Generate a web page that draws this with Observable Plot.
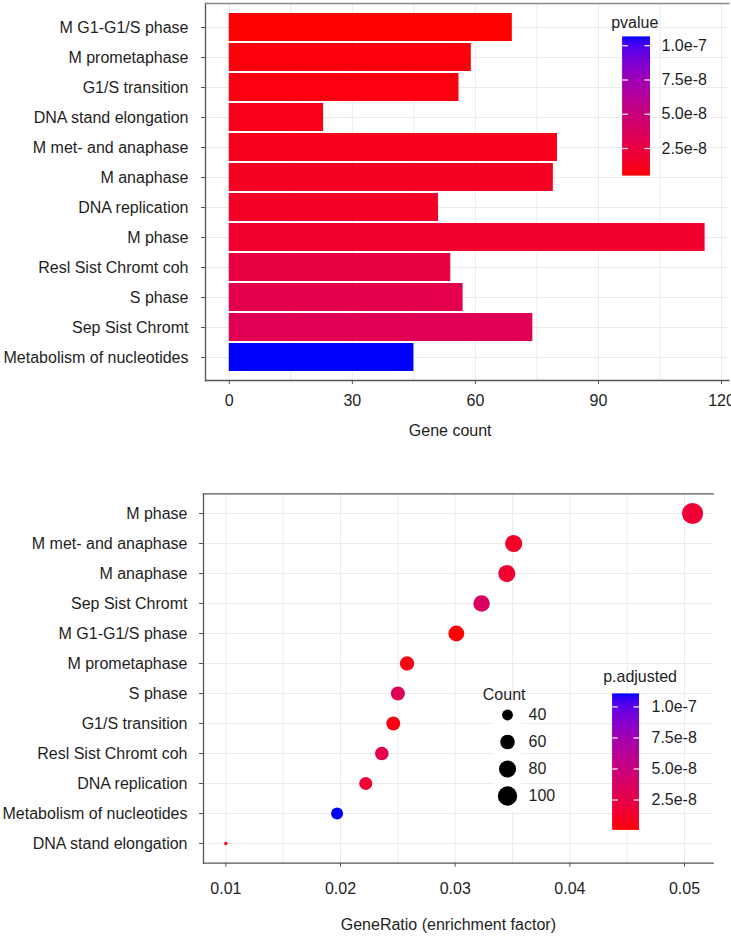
<!DOCTYPE html>
<html><head><meta charset="utf-8">
<script src="https://cdn.jsdelivr.net/npm/d3@7"></script>
<script src="https://cdn.jsdelivr.net/npm/@observablehq/plot@0.6"></script>
<style>
body{margin:0;background:#fff;font-family:"Liberation Sans",Arial,sans-serif;}
#wrap{position:relative;width:731px;height:936px;overflow:hidden;background:#fff}
#wrap svg{position:absolute;overflow:visible}
</style></head><body><div id="wrap"></div>
<script>
// ---------- data: top bar chart ----------
const barTerms = ["M G1-G1/S phase","M prometaphase","G1/S transition","DNA stand elongation","M met- and anaphase","M anaphase","DNA replication","M phase","Resl Sist Chromt coh","S phase","Sep Sist Chromt","Metabolism of nucleotides"];
const barCounts = [69, 59, 56, 23, 80, 79, 51, 116, 54, 57, 74, 45];
const barPvalues = [5.3e-9, 7.3e-9, 8.3e-9, 1.03e-8, 1.13e-8, 1.33e-8, 1.44e-8, 1.74e-8, 2.54e-8, 2.85e-8, 3.25e-8, 1.06e-7];
const geneCountTicks = [0, 30, 60, 90, 120];
const geneCountGrid = [0, 15, 30, 45, 60, 75, 90, 105, 120];

// ---------- data: bottom dot chart ----------
const dotTerms = ["M phase","M met- and anaphase","M anaphase","Sep Sist Chromt","M G1-G1/S phase","M prometaphase","S phase","G1/S transition","Resl Sist Chromt coh","DNA replication","Metabolism of nucleotides","DNA stand elongation"];
const dotRatios = [0.0507, 0.0351, 0.0345, 0.0323, 0.0301, 0.0258, 0.0250, 0.0246, 0.0236, 0.0222, 0.0197, 0.0100];
const dotCounts = [116, 80, 79, 74, 69, 59, 57, 56, 54, 51, 45, 23];
const dotPadj = [1.7e-8, 1.19e-8, 1.5e-8, 3.5e-8, 1.0e-9, 4.5e-9, 3.15e-8, 4.0e-9, 2.7e-8, 1.6e-8, 1.1e-7, 3.2e-9];
const ratioTicks = [0.01, 0.02, 0.03, 0.04, 0.05];
const ratioGrid = [0.01, 0.015, 0.02, 0.025, 0.03, 0.035, 0.04, 0.045, 0.05];

// ---------- legends ----------
const colorLegendTicks = [2.5e-8, 5.0e-8, 7.5e-8, 1.0e-7];
const countLegend = [40, 60, 80, 100];

const FONT = '"Liberation Sans", Arial, sans-serif';
const TXT = "#1e1e1e";
const AXIS = "#555";
const GRID = "#ebebeb";
const fmtE = d => d.toExponential(1);
const wrap = document.getElementById("wrap");
function place(svg, left, topY){ svg.style.left = left + "px"; svg.style.top = topY + "px"; wrap.appendChild(svg); }
const baseStyle = {fontFamily: FONT, fontSize: "16px", color: TXT, background: "transparent", overflow: "visible"};

// ================= TOP: bar chart =================
const barData = barTerms.map((t, i) => ({term: t, count: barCounts[i], pvalue: barPvalues[i]}));
const pDomain = d3.extent(barPvalues);
const pColor = {type: "linear", domain: pDomain, range: ["#ff0000", "#0000ff"], interpolate: "lab"};

const topChart = Plot.plot({
  width: 731, height: 466,
  marginLeft: 205, marginRight: 2.6, marginTop: 3, marginBottom: 86,
  style: baseStyle,
  x: {domain: [-5.8, 121.8], label: null},
  y: {domain: barTerms, paddingInner: 0.08, paddingOuter: 0.16, label: null},
  color: pColor,
  marks: [
    Plot.gridX(geneCountGrid, {stroke: GRID, strokeOpacity: 1}),
    Plot.gridY({stroke: GRID, strokeOpacity: 1}),
    Plot.barX(barData, {x: "count", y: "term", fill: "pvalue"}),
    Plot.frame({anchor: "left", stroke: AXIS, strokeWidth: 1.3}),
    Plot.frame({anchor: "bottom", stroke: AXIS, strokeWidth: 1.3}),
    Plot.frame({anchor: "top", stroke: "#888", strokeWidth: 1.3}),
    Plot.axisY({tickSize: 4, tickPadding: 13, stroke: AXIS, fill: TXT, fontSize: 16, label: null}),
    Plot.axisX({ticks: geneCountTicks, tickSize: 4, tickPadding: 10, stroke: AXIS, fill: TXT, fontSize: 16, label: null}),
    Plot.text(["Gene count"], {frameAnchor: "bottom", lineAnchor: "middle", dy: 50, dx: -17, fill: TXT, fontSize: 16})
  ]
});
place(topChart, 0, 0);

// colour bar legend builder
function colorBar(title, domain, colorOpts, barW, barH, mLeft, labelPad, titleDx, titleDy){
  const n = 160;
  const steps = d3.range(n).map(i => ({
    v0: domain[0] + (domain[1] - domain[0]) * i / n,
    v1: domain[0] + (domain[1] - domain[0]) * (i + 1) / n
  }));
  return Plot.plot({
    width: mLeft + barW + 75, height: 30 + barH + 6,
    marginLeft: mLeft, marginRight: 75, marginTop: 30, marginBottom: 6,
    style: baseStyle,
    x: {domain: [0, 1], axis: null},
    y: {domain: domain, label: null},
    color: colorOpts,
    marks: [
      Plot.rect(steps, {x1: 0, x2: 1, y1: "v0", y2: "v1", fill: d => (d.v0 + d.v1) / 2, insetTop: -0.6, insetBottom: -0.6}),
      Plot.ruleY(colorLegendTicks, {x1: 0, x2: 0.2, stroke: "white", strokeWidth: 1.2}),
      Plot.ruleY(colorLegendTicks, {x1: 0.8, x2: 1, stroke: "white", strokeWidth: 1.2}),
      Plot.axisY({anchor: "right", ticks: colorLegendTicks, tickFormat: fmtE, tickSize: 0, tickPadding: labelPad, fill: TXT, fontSize: 16, label: null}),
      Plot.text([title], {frameAnchor: "top-left", lineAnchor: "middle", dx: titleDx, dy: titleDy, textAnchor: "start", fill: TXT, fontSize: 16})
    ]
  });
}
const pLeg = colorBar("pvalue", pDomain, pColor, 27.7, 138, 22.3, 11, -11.6, -15);
place(pLeg, 600, 7);

// ================= BOTTOM: dot chart =================
const dotData = dotTerms.map((t, i) => ({term: t, ratio: dotRatios[i], count: dotCounts[i], padj: dotPadj[i]}));
const aDomain = d3.extent(dotPadj);
const aColor = {type: "linear", domain: aDomain, range: ["#ff0000", "#0000ff"], interpolate: "lab"};
const countMin = d3.min(dotCounts), countMax = d3.max(dotCounts);
const rScale = {type: "sqrt", domain: [0, countMax - countMin], range: [1.7, 10.5], transform: d => d - countMin};

const OFF = 466;
const bottomChart = Plot.plot({
  width: 731, height: 470,
  marginLeft: 203, marginRight: 18.3, marginTop: 27.3, marginBottom: 73.3,
  style: baseStyle,
  x: {domain: [0.00805, 0.0525], label: null},
  y: {type: "point", domain: dotTerms, padding: 0.6, label: null},
  color: aColor,
  r: rScale,
  marks: [
    Plot.gridX(ratioGrid, {stroke: GRID, strokeOpacity: 1}),
    Plot.gridY({stroke: GRID, strokeOpacity: 1}),
    Plot.dot(dotData, {x: "ratio", y: "term", r: "count", fill: "padj"}),
    Plot.frame({anchor: "left", stroke: AXIS, strokeWidth: 1.3}),
    Plot.frame({anchor: "bottom", stroke: AXIS, strokeWidth: 1.3}),
    Plot.frame({anchor: "top", stroke: AXIS, strokeWidth: 1.3}),
    Plot.axisY({tickSize: 4, tickPadding: 12, stroke: AXIS, fill: TXT, fontSize: 16, label: null}),
    Plot.axisX({ticks: ratioTicks, tickFormat: d => d.toFixed(2), tickSize: 4, tickPadding: 15, stroke: AXIS, fill: TXT, fontSize: 16, label: null}),
    Plot.text(["GeneRatio (enrichment factor)"], {frameAnchor: "bottom", lineAnchor: "middle", dy: 62, dx: -10, fill: TXT, fontSize: 16})
  ]
});
place(bottomChart, 0, OFF);

// Count size legend
const countLeg = Plot.plot({
  width: 100, height: 135,
  marginLeft: 23, marginRight: 49, marginTop: 20, marginBottom: 5,
  style: baseStyle,
  x: {axis: null},
  y: {type: "band", domain: countLegend, padding: 0, label: null},
  r: rScale,
  marks: [
    Plot.frame({fill: "white", stroke: null}),
    Plot.dot(countLegend, {y: d => d, r: d => d, fill: "black"}),
    Plot.axisY({anchor: "right", tickSize: 0, tickPadding: 7, fill: TXT, fontSize: 16, label: null}),
    Plot.text(["Count"], {frameAnchor: "top-left", lineAnchor: "middle", dx: -10.7, dy: -5.3, textAnchor: "start", fill: TXT, fontSize: 16})
  ]
});
place(countLeg, 470, 680);

// p.adjusted colour bar legend
const aLeg = colorBar("p.adjusted", aDomain, aColor, 26.7, 135.3, 22.3, 12, -9.6, -18);
place(aLeg, 590, 664);
</script></body></html>
